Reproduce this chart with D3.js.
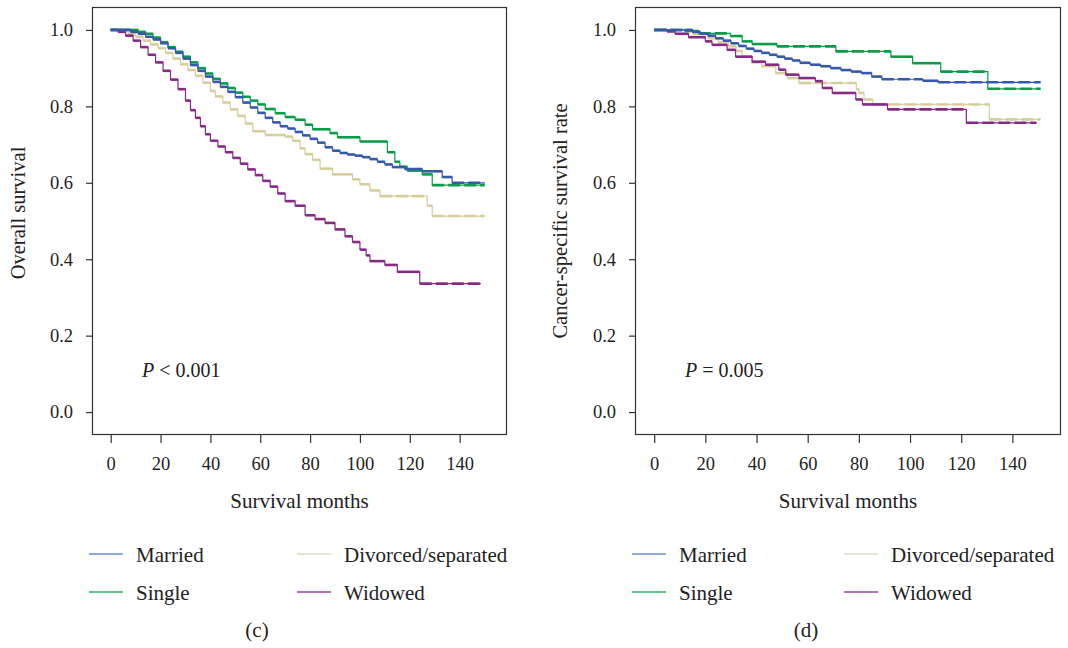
<!DOCTYPE html>
<html>
<head>
<meta charset="utf-8">
<script src="https://cdn.jsdelivr.net/npm/d3@7"></script>
<style>
  body { margin: 0; background: #fff; }
  svg { font-family: "Liberation Serif", "DejaVu Serif", serif; }
</style>
</head>
<body>
<svg id="chart" width="1068" height="648"></svg>
<script>
// ---- data ----
var groups = ["Married", "Single", "Divorced/separated", "Widowed"];
var xTicks = [0, 20, 40, 60, 80, 100, 120, 140];
var yTicks = [0.0, 0.2, 0.4, 0.6, 0.8, 1.0];

// overall survival, panel (c): [months, survival]
var osMarried = [[0,1],[5,1],[8,0.995],[11,0.99],[14,0.982],[17,0.975],[20,0.965],[23,0.952],[26,0.94],[29,0.925],[32,0.908],[35,0.893],[38,0.878],[41,0.864],[44,0.851],[47,0.838],[50,0.824],[53,0.81],[56,0.797],[59,0.783],[62,0.77],[65,0.758],[68,0.748],[71,0.742],[74,0.733],[77,0.724],[80,0.715],[83,0.705],[86,0.693],[89,0.684],[92,0.678],[95,0.674],[98,0.671],[101,0.667],[104,0.662],[107,0.655],[110,0.648],[113,0.641],[118,0.636],[125,0.63],[133,0.615],[137,0.6],[150,0.6]];
var osSingle = [[0,1],[8,1],[11,0.995],[14,0.99],[17,0.98],[20,0.968],[23,0.955],[26,0.943],[29,0.93],[32,0.915],[35,0.9],[38,0.886],[41,0.872],[44,0.86],[47,0.848],[50,0.836],[53,0.825],[56,0.815],[59,0.805],[62,0.793],[66,0.782],[70,0.772],[74,0.765],[78,0.752],[81,0.74],[88,0.73],[91,0.719],[100,0.708],[111,0.68],[114,0.655],[116,0.642],[119,0.632],[125,0.622],[129,0.594],[150,0.594]];
var osDivorced = [[0,1],[7,0.99],[10,0.982],[13,0.972],[16,0.962],[19,0.952],[22,0.94],[25,0.925],[28,0.91],[31,0.895],[34,0.88],[37,0.862],[40,0.84],[42,0.826],[45,0.81],[48,0.792],[51,0.775],[54,0.755],[57,0.735],[62,0.725],[70,0.721],[73,0.71],[76,0.69],[78,0.675],[81,0.66],[84,0.637],[89,0.622],[97,0.609],[100,0.596],[104,0.58],[108,0.565],[127,0.54],[129,0.513],[150,0.513]];
var osWidowed = [[0,1],[3,0.995],[6,0.985],[9,0.972],[12,0.955],[15,0.935],[18,0.915],[21,0.893],[24,0.87],[27,0.845],[30,0.815],[32,0.79],[34,0.77],[36,0.748],[38,0.727],[40,0.71],[43,0.695],[46,0.68],[49,0.665],[52,0.65],[55,0.635],[58,0.62],[61,0.605],[64,0.59],[67,0.572],[70,0.552],[74,0.54],[78,0.515],[82,0.505],[86,0.495],[90,0.478],[94,0.46],[97,0.445],[100,0.425],[102.5,0.41],[104,0.395],[110,0.385],[115,0.367],[124,0.336],[148.5,0.336]];

// cancer-specific survival, panel (d)
var cssMarried = [[0,1],[12,1],[15,0.995],[18,0.99],[21,0.985],[24,0.978],[27,0.972],[30,0.965],[33,0.958],[36,0.951],[39,0.945],[42,0.94],[45,0.935],[48,0.93],[51,0.925],[54,0.92],[57,0.914],[61,0.909],[65,0.905],[69,0.9],[73,0.895],[77,0.891],[81,0.887],[85,0.878],[89,0.871],[105,0.867],[111,0.863],[151,0.863]];
var cssSingle = [[0,1],[12,0.997],[17.4,0.991],[29.8,0.984],[34.4,0.97],[38.3,0.963],[48,0.957],[71,0.944],[92.5,0.93],[101,0.913],[112,0.891],[130.4,0.846],[151,0.846]];
var cssDivorced = [[0,1],[15,0.99],[21,0.978],[25,0.968],[29,0.957],[32,0.945],[34.4,0.93],[38,0.915],[42,0.905],[47.5,0.887],[52,0.874],[56.6,0.861],[77.5,0.861],[79,0.845],[80,0.835],[82,0.818],[85.4,0.805],[130.4,0.805],[131,0.766],[151,0.766]];
var cssWidowed = [[0,1],[5,0.996],[8.2,0.99],[13.4,0.981],[20,0.97],[22.6,0.961],[28.5,0.948],[31.8,0.93],[38.3,0.917],[43.5,0.909],[48.7,0.896],[51.4,0.883],[56.6,0.874],[63,0.866],[65.7,0.848],[69.6,0.835],[78.8,0.818],[81.4,0.805],[91.2,0.792],[122,0.757],[149.4,0.757]];

var lineColors = { "Married": "#3559ad", "Single": "#0b9c48", "Divorced/separated": "#d6cf9c", "Widowed": "#862a84" };
var keyColors = { "Married": "#6a8ccb", "Single": "#2fb062", "Divorced/separated": "#dddcc4", "Widowed": "#96489a" };

var svg = d3.select("#chart");

function drawPanel(opt) {
    var x = d3.scaleLinear().domain([-7.5, 159]).range([opt.left, opt.right]);
    var y = d3.scaleLinear().domain([-0.06, 1.06]).range([435, 7]);
    var g = svg.append("g");

    // frame
    g.append("rect")
        .attr("x", opt.left + 0.5)
        .attr("y", 7.5)
        .attr("width", opt.right - opt.left - 1)
        .attr("height", 427)
        .attr("fill", "none")
        .attr("stroke", "#333")
        .attr("stroke-width", 1.2);

    var xAxis = g.append("g")
        .attr("transform", "translate(0,435)")
        .call(d3.axisBottom(x).tickValues(xTicks).tickSize(8).tickPadding(14).tickFormat(d3.format("d")));
    var yAxis = g.append("g")
        .attr("transform", "translate(" + opt.left + ",0)")
        .call(d3.axisLeft(y).tickValues(yTicks).tickSize(6).tickPadding(13).tickFormat(d3.format(".1f")));
    [xAxis, yAxis].forEach(function (a) {
        a.select(".domain").remove();
        a.selectAll("line").attr("stroke", "#333").attr("stroke-width", 1.2);
        a.selectAll("text")
            .attr("fill", "#222")
            .style("font-family", "Liberation Serif, serif")
            .style("font-size", "18.5px");
    });

    // titles
    g.append("text")
        .attr("x", (opt.left + opt.right) / 2)
        .attr("y", 508)
        .attr("text-anchor", "middle")
        .attr("fill", "#222")
        .style("font-size", "21px")
        .text("Survival months");
    g.append("text")
        .attr("transform", "translate(" + opt.yTitleX + "," + opt.yTitleY + ") rotate(-90)")
        .attr("text-anchor", "middle")
        .attr("fill", "#222")
        .style("font-size", "20.5px")
        .text(opt.yTitle);

    // p value
    var p = g.append("text")
        .attr("x", opt.left + 50)
        .attr("y", 377)
        .attr("fill", "#222")
        .style("font-size", "20px");
    p.append("tspan").style("font-style", "italic").text("P");
    p.append("tspan").text(" " + opt.pText);

    // curves
    var step = d3.line()
        .x(function (d) { return x(d[0]); })
        .y(function (d) { return y(d[1]); })
        .curve(d3.curveStepAfter);

    var order = ["Divorced/separated", "Widowed", "Single", "Married"];
    order.forEach(function (name) {
        var pts = opt.series[name];
        g.append("path")
            .datum(pts)
            .attr("d", step)
            .attr("fill", "none")
            .attr("stroke", lineColors[name])
            .attr("stroke-width", 1.2);
        // horizontal runs drawn heavier, like the censor-marked segments
        var segs = [];
        for (var i = 0; i < pts.length - 1; i++) {
            segs.push([pts[i][0], pts[i + 1][0], pts[i][1]]);
        }
        g.append("g").selectAll("line")
            .data(segs)
            .enter()
            .append("line")
            .attr("x1", function (d) { return x(d[0]); })
            .attr("x2", function (d) { return x(d[1]); })
            .attr("y1", function (d) { return y(d[2]); })
            .attr("y2", function (d) { return y(d[2]); })
            .attr("stroke", lineColors[name])
            .attr("stroke-width", 2.6)
            .attr("stroke-dasharray", function (d) { return (x(d[1]) - x(d[0])) > 30 ? "12,4" : null; });
    });

    // legend
    var keyPos = [[0, 0], [0, 1], [1, 0], [1, 1]];
    groups.forEach(function (name, i) {
        var lx = opt.left + keyPos[i][0] * opt.keyColGap - 3;
        var ly = 554 + keyPos[i][1] * 38;
        g.append("line")
            .attr("x1", lx).attr("x2", lx + 34)
            .attr("y1", ly).attr("y2", ly)
            .attr("stroke", keyColors[name])
            .attr("stroke-width", 1.6);
        g.append("text")
            .attr("x", lx + 47)
            .attr("y", ly + 8)
            .attr("fill", "#222")
            .style("font-size", "21px")
            .text(name);
    });

    g.append("text")
        .attr("x", opt.captionX)
        .attr("y", 637)
        .attr("text-anchor", "middle")
        .attr("fill", "#222")
        .style("font-size", "21px")
        .text(opt.caption);
}

drawPanel({
    left: 92, right: 507,
    yTitle: "Overall survival", yTitleX: 25, yTitleY: 213,
    pText: "< 0.001",
    series: { "Married": osMarried, "Single": osSingle, "Divorced/separated": osDivorced, "Widowed": osWidowed },
    keyColGap: 208, captionX: 257, caption: "(c)"
});

drawPanel({
    left: 635, right: 1061,
    yTitle: "Cancer-specific survival rate", yTitleX: 567, yTitleY: 221,
    pText: "= 0.005",
    series: { "Married": cssMarried, "Single": cssSingle, "Divorced/separated": cssDivorced, "Widowed": cssWidowed },
    keyColGap: 212, captionX: 806, caption: "(d)"
});
</script>
</body>
</html>
